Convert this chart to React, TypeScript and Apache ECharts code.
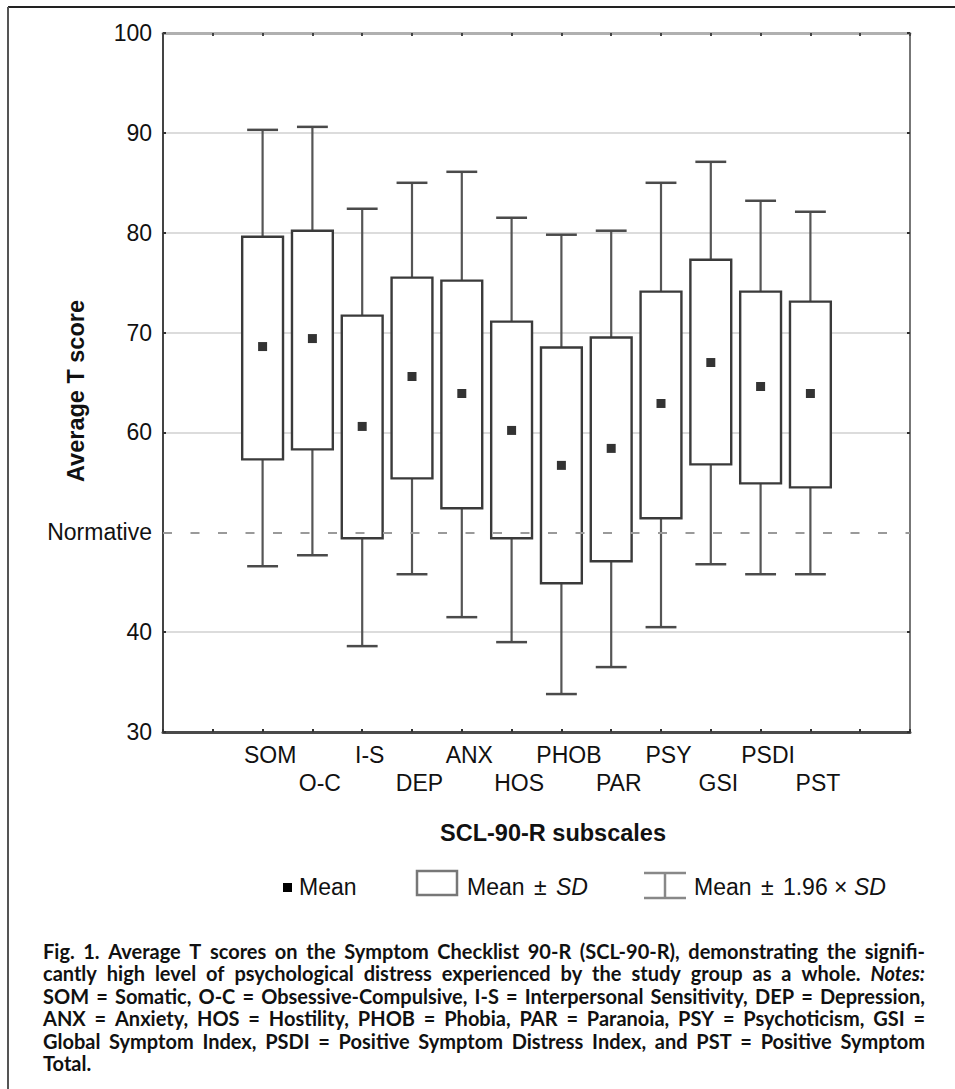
import React, { useEffect, useRef } from 'react';
import * as echarts from 'echarts';

// ---------- data ----------
const categories = ['SOM', 'O-C', 'I-S', 'DEP', 'ANX', 'HOS', 'PHOB', 'PAR', 'PSY', 'GSI', 'PSDI', 'PST'];
// empty slots on both sides of the axis
const leadingSlots = ['_a', '_b'];
const trailingSlots = ['_c', '_d'];
const lowerWhisker = [46.6, 47.7, 38.6, 45.8, 41.5, 39.0, 33.8, 36.5, 40.5, 46.8, 45.8, 45.8];
const boxLow = [57.3, 58.3, 49.4, 55.4, 52.4, 49.4, 44.9, 47.1, 51.4, 56.8, 54.9, 54.5];
const means = [68.6, 69.4, 60.6, 65.6, 63.9, 60.2, 56.7, 58.4, 62.9, 67.0, 64.6, 63.9];
const boxHigh = [79.6, 80.2, 71.7, 75.5, 75.2, 71.1, 68.5, 69.5, 74.1, 77.3, 74.1, 73.1];
const upperWhisker = [90.3, 90.6, 82.4, 85.0, 86.1, 81.5, 79.8, 80.2, 85.0, 87.1, 83.2, 82.1];
const normativeValue = 50;
const yTicks = { min: 30, max: 100, interval: 10 };

const captionLines = [
  'Fig. 1. Average T scores on the Symptom Checklist 90-R (SCL-90-R), demonstrating the signifi-',
  'cantly high level of psychological distress experienced by the study group as a whole. Notes:',
  'SOM = Somatic, O-C = Obsessive-Compulsive, I-S = Interpersonal Sensitivity, DEP = Depression,',
  'ANX = Anxiety, HOS = Hostility, PHOB = Phobia, PAR = Paranoia, PSY = Psychoticism, GSI =',
  'Global Symptom Index, PSDI = Positive Symptom Distress Index, and PST = Positive Symptom',
  'Total.',
];
const italicWords = ['Notes:'];

const SANS = '"Liberation Sans", Arial, Helvetica, sans-serif';
const CAP_FAMILY = 'Lato';
const CAP_SIZE = 20;

function buildCaption(left: number, right: number, top: number, lineGap: number) {
  const ctx = document.createElement('canvas').getContext('2d') as CanvasRenderingContext2D;
  const measure = (t: string, italic: boolean) => {
    ctx.font = `${italic ? 'italic ' : ''}bold ${CAP_SIZE}px ${CAP_FAMILY}`;
    return ctx.measureText(t).width;
  };
  const spaceW = measure(' ', false);
  const out: any[] = [];
  captionLines.forEach((line, li) => {
    const words = line.split(' ');
    const widths = words.map((w) => measure(w, italicWords.includes(w)));
    const sum = widths.reduce((a, b) => a + b, 0);
    const last = li === captionLines.length - 1;
    const gap = last || words.length < 2 ? spaceW : (right - left - sum) / (words.length - 1);
    let x = left;
    words.forEach((w, wi) => {
      const it = italicWords.includes(w);
      out.push({
        type: 'text',
        x,
        y: top + li * lineGap,
        style: {
          text: w,
          fontFamily: CAP_FAMILY,
          fontWeight: 'bold',
          fontStyle: it ? 'italic' : 'normal',
          fontSize: CAP_SIZE,
          lineHeight: 20,
          fill: '#111',
          align: 'left',
          verticalAlign: 'middle',
        },
      });
      x += widths[wi] + gap;
    });
  });
  return out;
}

export default function App() {
  const ref = useRef<HTMLDivElement>(null);

  useEffect(() => {
    if (!ref.current) return;
    const chart = echarts.init(ref.current, undefined, { renderer: 'svg' });
    const axisData = [...leadingSlots, ...categories, ...trailingSlots];

    const boxData = categories.map((c, i) => [c, lowerWhisker[i], boxLow[i], means[i], boxHigh[i], upperWhisker[i]]);
    const meanData = categories.map((c, i) => [c, means[i]]);

    const option: any = {
      animation: false,
      backgroundColor: '#fff',
      grid: { left: 163, top: 33, right: 45, bottom: 357, containLabel: false },
      xAxis: [
        {
          type: 'category',
          data: axisData,
          boundaryGap: false,
          position: 'bottom',
          axisLine: { lineStyle: { color: '#4a4a4a', width: 3 } },
          axisTick: { show: true, inside: true, length: 3, interval: 0, lineStyle: { color: '#333', width: 2 } },
          axisLabel: {
            interval: 0,
            margin: 9,
            fontFamily: SANS,
            fontSize: 23,
            color: '#111',
            lineHeight: 28,
            padding: [0, 0, 0, 15],
            formatter: (v: string, idx: number) => {
              if (v.startsWith('_')) return '';
              return (idx - leadingSlots.length) % 2 === 1 ? '\n' + v : v;
            },
          },
          splitLine: { show: false },
        },
        {
          type: 'category',
          data: axisData,
          boundaryGap: false,
          position: 'top',
          axisLine: { lineStyle: { color: '#b0b0b0', width: 3 } },
          axisTick: { show: true, inside: true, length: 3, interval: 0, lineStyle: { color: '#444', width: 2 } },
          axisLabel: { show: false },
          splitLine: { show: false },
        },
      ],
      yAxis: [
        {
          type: 'value',
          min: yTicks.min,
          max: yTicks.max,
          interval: yTicks.interval,
          position: 'left',
          axisLine: { show: true, lineStyle: { color: '#444', width: 2 } },
          axisTick: { show: true, inside: true, length: 3, lineStyle: { color: '#333', width: 2 } },
          axisLabel: {
            margin: 11,
            fontFamily: SANS,
            fontSize: 23,
            color: '#111',
            formatter: (v: number) => (v === normativeValue ? 'Normative' : String(v)),
          },
          splitLine: {
            show: true,
            lineStyle: {
              width: 2,
              color: ['#dcdcdc', '#dcdcdc', 'rgba(0,0,0,0)', '#dcdcdc', '#dcdcdc', '#dcdcdc', '#dcdcdc', '#dcdcdc'],
            },
          },
        },
        {
          type: 'value',
          min: yTicks.min,
          max: yTicks.max,
          interval: yTicks.interval,
          position: 'right',
          axisLine: { show: true, lineStyle: { color: '#777', width: 2 } },
          axisTick: { show: true, inside: true, length: 3, lineStyle: { color: '#333', width: 2 } },
          axisLabel: { show: false },
          splitLine: { show: false },
        },
      ],
      series: [
        {
          type: 'custom',
          xAxisIndex: 0,
          yAxisIndex: 0,
          data: boxData,
          encode: { x: 0, y: [1, 2, 3, 4, 5] },
          z: 3,
          renderItem: (params: any, api: any) => {
            const xi = api.value(0);
            const pLow = api.coord([xi, api.value(1)]);
            const pQ1 = api.coord([xi, api.value(2)]);
            const pQ3 = api.coord([xi, api.value(4)]);
            const pHigh = api.coord([xi, api.value(5)]);
            const band = api.size([1, 0])[0];
            const bw = band * 0.82;
            const cw = band * 0.62;
            const cx = pQ1[0];
            const wStyle = { stroke: '#555', lineWidth: 2.2 };
            return {
              type: 'group',
              children: [
                { type: 'line', shape: { x1: cx, y1: pQ3[1], x2: cx, y2: pHigh[1] }, style: wStyle },
                { type: 'line', shape: { x1: cx, y1: pQ1[1], x2: cx, y2: pLow[1] }, style: wStyle },
                { type: 'line', shape: { x1: cx - cw / 2, y1: pHigh[1], x2: cx + cw / 2, y2: pHigh[1] }, style: { stroke: '#4a4a4a', lineWidth: 2.5 } },
                { type: 'line', shape: { x1: cx - cw / 2, y1: pLow[1], x2: cx + cw / 2, y2: pLow[1] }, style: { stroke: '#4a4a4a', lineWidth: 2.5 } },
                {
                  type: 'rect',
                  shape: { x: cx - bw / 2, y: pQ3[1], width: bw, height: pQ1[1] - pQ3[1] },
                  style: { fill: '#fff', stroke: '#3a3a3a', lineWidth: 2.4 },
                },
              ],
            };
          },
        },
        {
          type: 'scatter',
          xAxisIndex: 0,
          yAxisIndex: 0,
          data: meanData,
          symbol: 'rect',
          symbolSize: 9,
          itemStyle: { color: '#000' },
          z: 5,
          markLine: {
            silent: true,
            symbol: 'none',
            label: { show: false },
            lineStyle: { color: '#9a9a9a', width: 2.2, type: [9, 18.5] },
            data: [{ yAxis: normativeValue }],
          },
        },
      ],
      graphic: [
        // figure frame
        { type: 'line', shape: { x1: 8, y1: 7, x2: 955, y2: 7 }, style: { stroke: '#222', lineWidth: 2 } },
        { type: 'line', shape: { x1: 8, y1: 7, x2: 8, y2: 1089 }, style: { stroke: '#555', lineWidth: 2 } },
        // y axis title
        {
          type: 'text',
          x: 76,
          y: 391,
          rotation: Math.PI / 2,
          style: {
            text: 'Average T score',
            fontFamily: SANS,
            fontWeight: 'bold',
            fontSize: 23.5,
            fill: '#111',
            align: 'center',
            verticalAlign: 'middle',
          },
        },
        // x axis title
        {
          type: 'text',
          x: 553,
          y: 833,
          style: {
            text: 'SCL-90-R subscales',
            fontFamily: SANS,
            fontWeight: 'bold',
            fontSize: 23.5,
            fill: '#111',
            align: 'center',
            verticalAlign: 'middle',
          },
        },
        // legend: mean
        { type: 'rect', shape: { x: 283, y: 883, width: 9, height: 9 }, style: { fill: '#000' } },
        {
          type: 'text',
          x: 299,
          y: 887,
          style: { text: 'Mean', fontFamily: SANS, fontSize: 23, fill: '#111', align: 'left', verticalAlign: 'middle' },
        },
        // legend: box
        { type: 'rect', shape: { x: 417, y: 871, width: 40, height: 24 }, style: { fill: '#fff', stroke: '#777', lineWidth: 2.5 } },
        {
          type: 'text',
          x: 467,
          y: 887,
          style: {
            text: 'Mean {s|±} {i|SD}',
            fontFamily: SANS,
            fontSize: 23,
            fill: '#111',
            align: 'left',
            verticalAlign: 'middle',
            rich: {
              s: { fontFamily: SANS, fontSize: 23, fill: '#111', padding: [0, 3, 0, 3] },
              i: { fontFamily: SANS, fontSize: 23, fill: '#111', fontStyle: 'italic' },
            },
          },
        },
        // legend: whisker
        { type: 'line', shape: { x1: 665, y1: 873, x2: 665, y2: 898 }, style: { stroke: '#888', lineWidth: 2.5 } },
        { type: 'line', shape: { x1: 644, y1: 873, x2: 686, y2: 873 }, style: { stroke: '#888', lineWidth: 2.5 } },
        { type: 'line', shape: { x1: 644, y1: 898, x2: 686, y2: 898 }, style: { stroke: '#888', lineWidth: 2.5 } },
        {
          type: 'text',
          x: 694,
          y: 887,
          style: {
            text: 'Mean {s|±} 1.96 × {i|SD}',
            fontFamily: SANS,
            fontSize: 23,
            fill: '#111',
            align: 'left',
            verticalAlign: 'middle',
            rich: {
              s: { fontFamily: SANS, fontSize: 23, fill: '#111', padding: [0, 3, 0, 3] },
              i: { fontFamily: SANS, fontSize: 23, fill: '#111', fontStyle: 'italic' },
            },
          },
        },
        ...buildCaption(43, 925, 951, 22.4),
      ],
    };

    chart.setOption(option);
    return () => chart.dispose();
  }, []);

  return (
    <div
      ref={ref}
      style={{ position: 'absolute', left: 0, top: 0, width: 955, height: 1089, background: '#fff' }}
    />
  );
}
